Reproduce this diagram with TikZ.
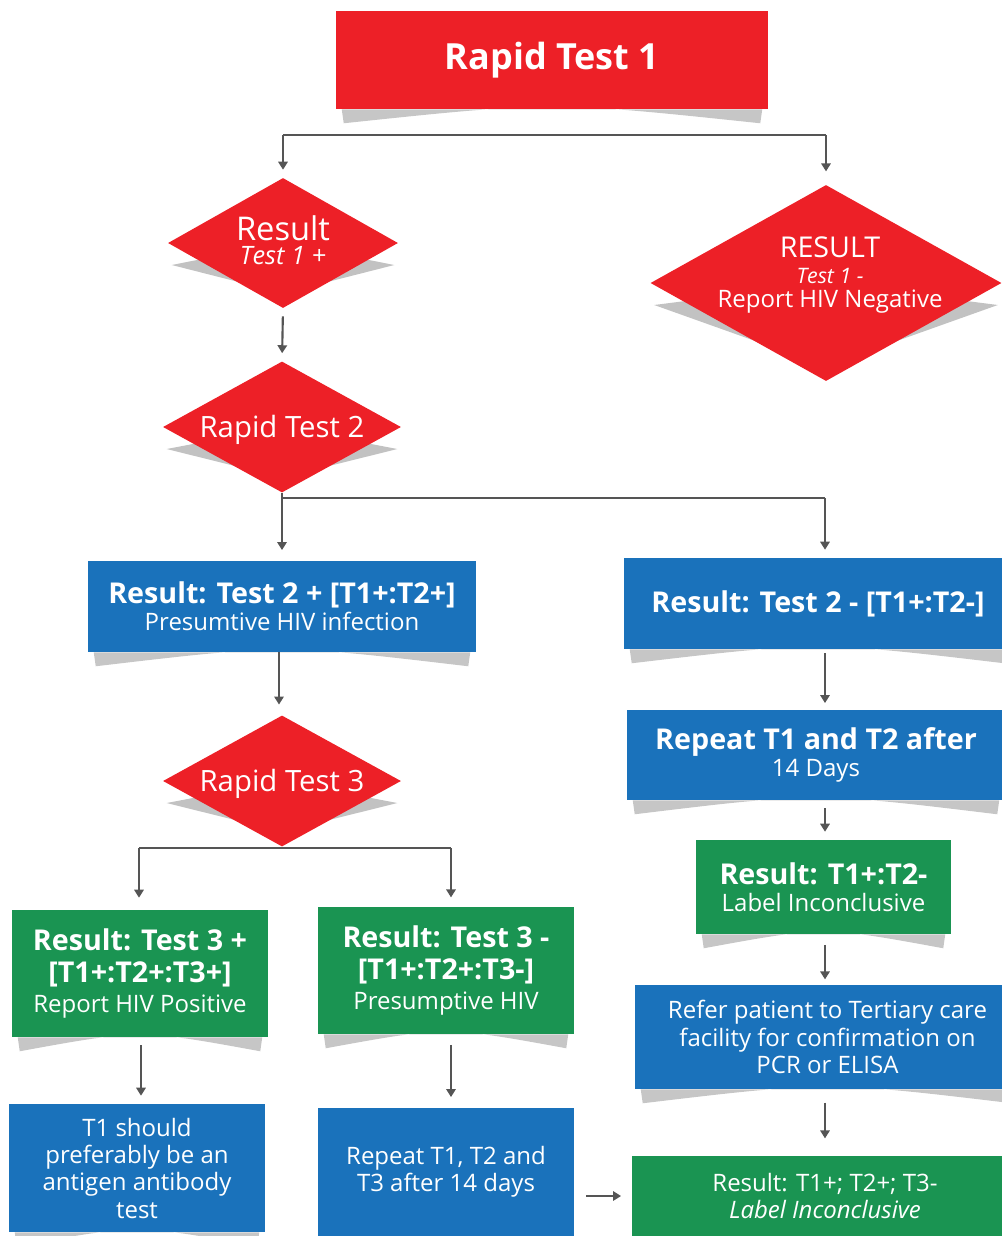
\documentclass[tikz,border=0pt]{standalone}
\usepackage{fontspec}
\setmainfont{Open Sans}
\usetikzlibrary{arrows.meta, shapes.geometric, calc, backgrounds}
\definecolor{hivred}{RGB}{237,32,39}
\definecolor{hivblue}{RGB}{26,114,187}
\definecolor{hivgreen}{RGB}{26,148,82}
\definecolor{linegray}{RGB}{85,85,85}
\newcommand\headfont{\fontsize{21.5}{24}\selectfont\bfseries}
\newcommand\bodyfont{\fontsize{18}{20.5}\selectfont}

\begin{document}
\begin{tikzpicture}[x=0.75pt, y=-0.75pt, >={Triangle[width=7pt,length=6pt]},
      every node/.style={text=white, align=center, inner sep=2pt, font=\bodyfont},
      boxsize/.style 2 args={minimum width=#1, minimum height=#2},
      redbox/.style={rectangle, fill=hivred},
      bluebox/.style={rectangle, fill=hivblue},
      greenbox/.style={rectangle, fill=hivgreen},
      decision/.style={diamond, fill=hivred, inner sep=0pt},
      flow/.style={draw=linegray, line width=1.6pt},
      arrow/.style={flow, ->, shorten >=6pt, shorten <=6pt},
      boxshadow/.style={fill=black!28, opacity=0.8},
      diashadow/.style={fill=black!24}]
  \useasboundingbox (0,0) rectangle (1002,1236);

  % top of the chart
  \node[redbox, boxsize={324pt}{73.5pt}, font=\fontsize{27}{30}\selectfont\bfseries] (rt1) at (552,60) {Rapid Test 1};
  \node[decision, boxsize={172.5pt}{97.5pt},
        label={[yshift=2pt]center:{{\fontsize{24.5}{22}\selectfont Result}\\[-3pt]{\fontsize{19}{20}\selectfont\itshape Test 1 +}}}] (res1p) at (283,243) {};
  \node[decision, boxsize={263.25pt}{147pt},
        label={[yshift=6pt, xshift=3pt]center:{{\fontsize{21.5}{22}\selectfont RESULT}\\[-1.5pt]{\fontsize{16}{17}\selectfont\itshape Test 1 -}\\[-2.5pt]Report HIV Negative}}] (res1n) at (826,283) {};
  \node[decision, boxsize={178.5pt}{98.25pt}, label={[yshift=-2pt]center:{\fontsize{22}{24}\selectfont Rapid Test 2}}] (rt2) at (282,427) {};

  % left branch
  \node[bluebox, boxsize={291pt}{68.25pt}] (res2p) at (282,606.5) {{\headfont Result: Test 2 + [T1+:T2+]}\\Presumtive HIV infection};
  \node[decision, boxsize={178.5pt}{98.25pt}, label={[yshift=-2pt]center:{\fontsize{22}{24}\selectfont Rapid Test 3}}] (rt3) at (282,781) {};
  \node[greenbox, boxsize={192pt}{95.25pt}] (res3p) at (140,973.5) {{\headfont Result: Test 3 +}\\[4pt]{\headfont [T1+:T2+:T3+]}\\[2pt]Report HIV Positive};
  \node[greenbox, boxsize={192pt}{95.25pt}] (res3n) at (446,970.5) {{\headfont Result: Test 3 -}\\[4pt]{\headfont [T1+:T2+:T3-]}\\[2pt]Presumptive HIV};
  \node[bluebox, boxsize={192pt}{96pt}] (agab) at (137,1168) {T1 should\\preferably be an\\antigen antibody\\test};
  \node[bluebox, boxsize={192pt}{96pt}] (rep123) at (446,1172) {Repeat T1, T2 and\\T3 after 14 days};

  % right branch
  \node[bluebox, boxsize={291pt}{68.25pt}] (res2n) at (818,603.5) {\headfont Result: Test 2 - [T1+:T2-]};
  \node[bluebox, boxsize={283.5pt}{67.5pt}] (rep12) at (816,755) {{\headfont Repeat T1 and T2 after}\\14 Days};
  \node[greenbox, boxsize={191.25pt}{70.5pt}] (incl1) at (823.5,887) {{\headfont Result: T1+:T2-}\\Label Inconclusive};
  \node[bluebox, boxsize={288.75pt}{78pt}] (refer) at (827.5,1037) {Refer patient to Tertiary care\\facility for confirmation on\\PCR or ELISA};
  \node[greenbox, boxsize={289.5pt}{60pt}] (incl2) at (825,1196) {Result: T1+; T2+; T3-\\\textit{Label Inconclusive}};

  % connectors
  \coordinate (split1) at (552,135);
  \coordinate (split2) at (282,498);
  \coordinate (split3) at (282,848);
  \coordinate (colR) at (825,0);
  \draw[flow] (res1p |- split1) -- (res1n |- split1);
  \draw[arrow, shorten <=0pt] (res1p |- split1) -- (res1p.north);
  \draw[arrow, shorten <=0pt, shorten >=10pt] (res1n |- split1) -- (res1n.north);
  \draw[arrow] (res1p.south) -- (rt2.north);
  \draw[flow] (rt2.south) -- (split2) -- (split2 -| colR);
  \draw[arrow, shorten <=0pt, shorten >=8pt] (split2) -- (res2p.north);
  \draw[arrow, shorten <=0pt] (split2 -| colR) -- (res2n.north -| colR);
  \draw[arrow, shorten <=0pt, shorten >=8pt] (res2p.south -| 279,0) -- (rt3.north -| 279,0);
  \draw[flow] (rt3.south) -- (split3);
  \draw[flow] (split3 -| 139,0) -- (split3 -| 451,0);
  \draw[arrow, shorten <=0pt, shorten >=9pt] (split3 -| 139,0) -- (res3p.north -| 139,0);
  \draw[arrow, shorten <=0pt, shorten >=7pt] (split3 -| 451,0) -- (res3n.north -| 451,0);
  \draw[arrow] (res3p.south -| 141,0) -- (agab.north -| 141,0);
  \draw[arrow, shorten <=8pt, shorten >=8pt] (res3n.south -| 451,0) -- (rep123.north -| 451,0);
  \draw[arrow, shorten <=9pt, shorten >=8pt] (rep123.east |- incl2) -- (incl2.west);
  \draw[arrow, shorten <=3pt, shorten >=5pt] (res2n.south -| colR) -- (rep12.north -| colR);
  \draw[arrow] (rep12.south -| colR) -- (incl1.north -| colR);
  \draw[arrow, shorten <=8pt, shorten >=4pt] (incl1.south -| colR) -- (refer.north -| colR);
  \draw[arrow, shorten <=10pt, shorten >=13pt] (refer.south -| colR) -- (incl2.north -| colR);

  % shadows
  \begin{scope}[on background layer]
    \foreach \n in {rt1, res2p, res2n, rep12, incl1, refer, incl2, res3p, res3n, agab}
      \fill[boxshadow] ($(\n.south west)+(6,0)$) -- ++(2,14)
        .. controls ($(\n.south)+(0,-8)$) .. ($(\n.south east)+(-8,14)$)
        -- ($(\n.south east)+(-6,0)$) -- cycle;
    \foreach \n in {res1p, res1n, rt2, rt3}
      \fill[diashadow] ($(\n.west)+(4,22)$) -- ($(\n.south)+(0,-15)$)
        -- ($(\n.east)+(-4,22)$) -- (\n.center) -- cycle;
  \end{scope}
\end{tikzpicture}
\end{document}
